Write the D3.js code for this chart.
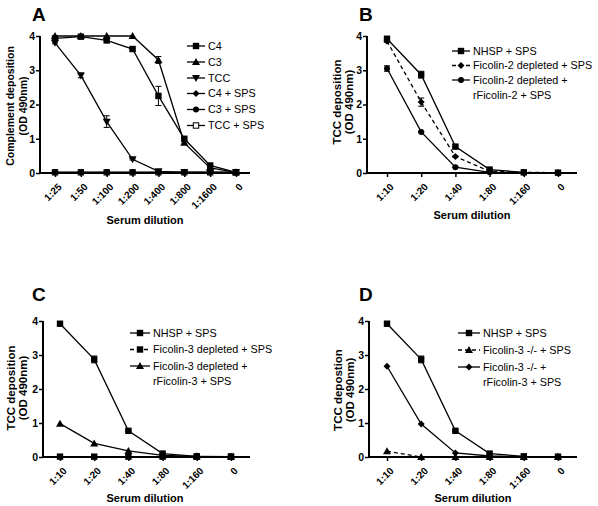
<!DOCTYPE html>
<html><head><meta charset="utf-8">
<script src="https://cdnjs.cloudflare.com/ajax/libs/d3/7.8.5/d3.min.js"></script>
<style>body{margin:0;background:#fff}svg{display:block;font-family:"Liberation Sans",Arial,sans-serif}</style>
</head><body><svg id="c" width="598" height="506"></svg>
<script>
// ---- Panel A ----
const dilA = ["1:25","1:50","1:100","1:200","1:400","1:800","1:1600","0"];
const aC4 = [3.93,3.98,3.87,3.62,2.25,1.0,0.22,0.02];
const aC4err = [0.04,0.02,0.05,0.03,0.28,0.03,0.03,0];
const aC3 = [4.0,4.0,4.0,4.0,3.3,0.88,0.15,0.02];
const aC3err = [0,0,0,0,0.1,0.03,0.02,0];
const aTCC = [3.8,2.85,1.5,0.4,0.05,0.02,0.02,0.02];
const aTCCerr = [0.03,0.07,0.17,0.02,0.01,0,0,0];
const aC4sps = [0.02,0.02,0.02,0.02,0.02,0.02,0.02,0.02];
const aC3sps = [0.02,0.02,0.02,0.02,0.02,0.02,0.02,0.02];
const aTCCsps = [0.02,0.02,0.02,0.02,0.02,0.02,0.02,0.02];
// ---- Panels B-D ----
const dilB = ["1:10","1:20","1:40","1:80","1:160","0"];
const nhsp = [3.92,2.87,0.77,0.1,0.02,0.01];
const nhspErr = [0.06,0.1,0.02,0.01,0,0];
const bFic2dep = [3.85,2.07,0.48,0.05,0.02,0.01];
const bFic2depErr = [0.03,0.12,0.02,0.01,0,0];
const bFic2r = [3.05,1.2,0.17,0.02,0.01,0.01];
const bFic2rErr = [0.08,0.02,0.01,0,0,0];
const cFic3dep = [0.01,0.01,0.01,0.01,0.01,0.01];
const cFic3r = [0.98,0.4,0.18,0.05,0.02,0.01];
const dFic3ko = [0.17,0.0,0.0,0.0,0.0,0.0];
const dFic3r = [2.67,0.97,0.12,0.03,0.01,0.01];
const yTicks = [0,1,2,3,4];

const svg = d3.select("#c");

function marker(g, type, x, y) {
  const s = 3.2;
  if (type === "square") g.append("rect").attr("x", x-s).attr("y", y-s).attr("width", 2*s).attr("height", 2*s).attr("fill", "#000");
  else if (type === "osquare") g.append("rect").attr("x", x-s+0.5).attr("y", y-s+0.5).attr("width", 2*s-1).attr("height", 2*s-1).attr("fill", "#fff").attr("stroke", "#000").attr("stroke-width", 1);
  else if (type === "tri") g.append("path").attr("d", `M${x},${y-4}L${x+4},${y+3}L${x-4},${y+3}Z`).attr("fill", "#000");
  else if (type === "itri") g.append("path").attr("d", `M${x},${y+4}L${x+4},${y-3}L${x-4},${y-3}Z`).attr("fill", "#000");
  else if (type === "diamond") g.append("path").attr("d", `M${x},${y-3.5}L${x+3.5},${y}L${x},${y+3.5}L${x-3.5},${y}Z`).attr("fill", "#000");
  else if (type === "circle") g.append("circle").attr("cx", x).attr("cy", y).attr("r", 3).attr("fill", "#000");
}

function panel(cfg) {
  const g = svg.append("g");
  const x = d3.scalePoint().domain(cfg.cats).range([cfg.x0, cfg.x1]);
  const y = d3.scaleLinear().domain([0,4]).range([cfg.yb, cfg.yt]);
  // axes
  const ya = g.append("g").attr("transform", `translate(${cfg.ax},0)`)
    .call(d3.axisLeft(y).tickValues(yTicks).tickSize(4).tickFormat(d3.format("d")));
  ya.select(".domain").attr("d", `M0,${cfg.yt}V${cfg.yb}`).attr("stroke-width", 2);
  ya.selectAll(".tick line").attr("stroke-width", 1.5);
  ya.selectAll(".tick text").attr("font-size", 10.5).attr("font-weight", "bold").attr("font-family", "Liberation Sans, Arial").attr("x", -5);
  const xa = g.append("g").attr("transform", `translate(0,${cfg.yb})`)
    .call(d3.axisBottom(x).tickSize(4).tickFormat(""));
  xa.select(".domain").attr("d", `M${cfg.ax},0H${cfg.axEnd}`).attr("stroke-width", 2);
  xa.selectAll(".tick line").attr("stroke-width", 1.5);
  cfg.cats.forEach(c => {
    g.append("text").attr("transform", `translate(${x(c)+5},${cfg.yb+12}) rotate(-45)`)
      .attr("text-anchor", "end").attr("dy", "0.35em").attr("font-size", 10).attr("font-weight", "bold").text(c);
  });
  // titles
  g.append("text").attr("x", cfg.panelX).attr("y", cfg.panelY).attr("font-size", 19).attr("font-weight", "bold").text(cfg.letter);
  g.append("text").attr("x", cfg.xtX).attr("y", cfg.xtY).attr("text-anchor", "middle")
    .attr("font-size", 11).attr("font-weight", "bold").text("Serum dilution");
  cfg.ytitle.forEach((t, i) => {
    g.append("text").attr("transform", `translate(${cfg.ytX[i]},${cfg.ytCY}) rotate(-90)`)
      .attr("text-anchor", "middle").attr("font-size", cfg.ytFs).attr("font-weight", "bold").text(t);
  });
  const line = d3.line().x((d,i) => x(cfg.cats[i])).y(d => y(d));
  // series in reverse so first one is on top
  cfg.series.slice().reverse().forEach(s => {
    g.append("path").datum(s.v).attr("d", line).attr("fill", "none").attr("stroke", "#000")
      .attr("stroke-width", 1.3).attr("stroke-dasharray", s.dash ? "4,3" : null);
    if (s.e) s.v.forEach((v, i) => {
      const e = s.e[i]; if (!e) return;
      const cx = x(cfg.cats[i]);
      g.append("path").attr("d", `M${cx-3},${y(v+e)}H${cx+3}M${cx},${y(v+e)}V${y(v-e)}M${cx-3},${y(v-e)}H${cx+3}`)
        .attr("stroke", "#000").attr("stroke-width", 1).attr("fill", "none");
    });
    s.v.forEach((v, i) => marker(g, s.m, x(cfg.cats[i]), y(v)));
  });
  // legend
  cfg.series.forEach((s, i) => {
    const ly = cfg.legY + cfg.legRows[i];
    g.append("line").attr("x1", cfg.legX).attr("x2", cfg.legX+cfg.legW).attr("y1", ly).attr("y2", ly)
      .attr("stroke", "#000").attr("stroke-width", 1.3).attr("stroke-dasharray", s.dash ? "4,3" : null);
    marker(g, s.m, cfg.legX+cfg.legW/2, ly);
    s.label.forEach((t, j) => {
      g.append("text").attr("x", cfg.legX+cfg.legW+3).attr("y", ly + j*15.5).attr("dy", "0.35em")
        .attr("font-size", 10.8).text(t);
    });
  });
}

panel({letter:"A", panelX:32, panelY:21, cats:dilA, x0:55, x1:236, ax:40, axEnd:250, yb:173, yt:36,
  xtX:145, xtY:224, ytitle:["Complement deposition","(OD 490nm)"], ytFs:10.5, ytX:[14,26.5], ytCY:106,
  legX:187, legW:18, legY:46, legRows:[0,16,32,47.5,63.5,79.5],
  series:[
    {v:aC4, e:aC4err, m:"square", label:["C4"]},
    {v:aC3, e:aC3err, m:"tri", label:["C3"]},
    {v:aTCC, e:aTCCerr, m:"itri", label:["TCC"]},
    {v:aC4sps, m:"diamond", label:["C4 + SPS"]},
    {v:aC3sps, m:"circle", label:["C3 + SPS"]},
    {v:aTCCsps, m:"osquare", label:["TCC + SPS"]}
  ]});

panel({letter:"B", panelX:359, panelY:21, cats:dilB, x0:387, x1:558, ax:367, axEnd:577, yb:173, yt:36,
  xtX:472, xtY:219, ytitle:["TCC deposition","(OD 490nm)"], ytFs:11.5, ytX:[340.5,353], ytCY:102,
  legX:452, legW:18, legY:51, legRows:[0,14.5,29],
  series:[
    {v:nhsp, e:nhspErr, m:"square", label:["NHSP + SPS"]},
    {v:bFic2dep, e:bFic2depErr, m:"diamond", dash:true, label:["Ficolin-2 depleted + SPS"]},
    {v:bFic2r, e:bFic2rErr, m:"circle", label:["Ficolin-2 depleted +","rFicolin-2 + SPS"]}
  ]});

panel({letter:"C", panelX:32, panelY:301, cats:dilB, x0:60, x1:231, ax:43, axEnd:250, yb:457, yt:321,
  xtX:145, xtY:502, ytitle:["TCC deposition","(OD 490nm)"], ytFs:11.5, ytX:[14.5,27], ytCY:388,
  legX:130, legW:20, legY:333, legRows:[0,16.5,33],
  series:[
    {v:nhsp, e:nhspErr, m:"square", label:["NHSP + SPS"]},
    {v:cFic3dep, m:"square", dash:true, label:["Ficolin-3 depleted + SPS"]},
    {v:cFic3r, m:"tri", label:["Ficolin-3 depleted +","rFicolin-3 + SPS"]}
  ]});

panel({letter:"D", panelX:359, panelY:301, cats:dilB, x0:387, x1:558, ax:369, axEnd:577, yb:457, yt:321,
  xtX:473, xtY:502, ytitle:["TCC depostion","(OD 490nm)"], ytFs:11.5, ytX:[341.5,354], ytCY:390,
  legX:458, legW:22, legY:333, legRows:[0,17,34],
  series:[
    {v:nhsp, e:nhspErr, m:"square", label:["NHSP + SPS"]},
    {v:dFic3ko, m:"tri", dash:true, label:["Ficolin-3 -/- + SPS"]},
    {v:dFic3r, m:"diamond", label:["Ficolin-3 -/- +","rFicolin-3 + SPS"]}
  ]});
</script></body></html>
